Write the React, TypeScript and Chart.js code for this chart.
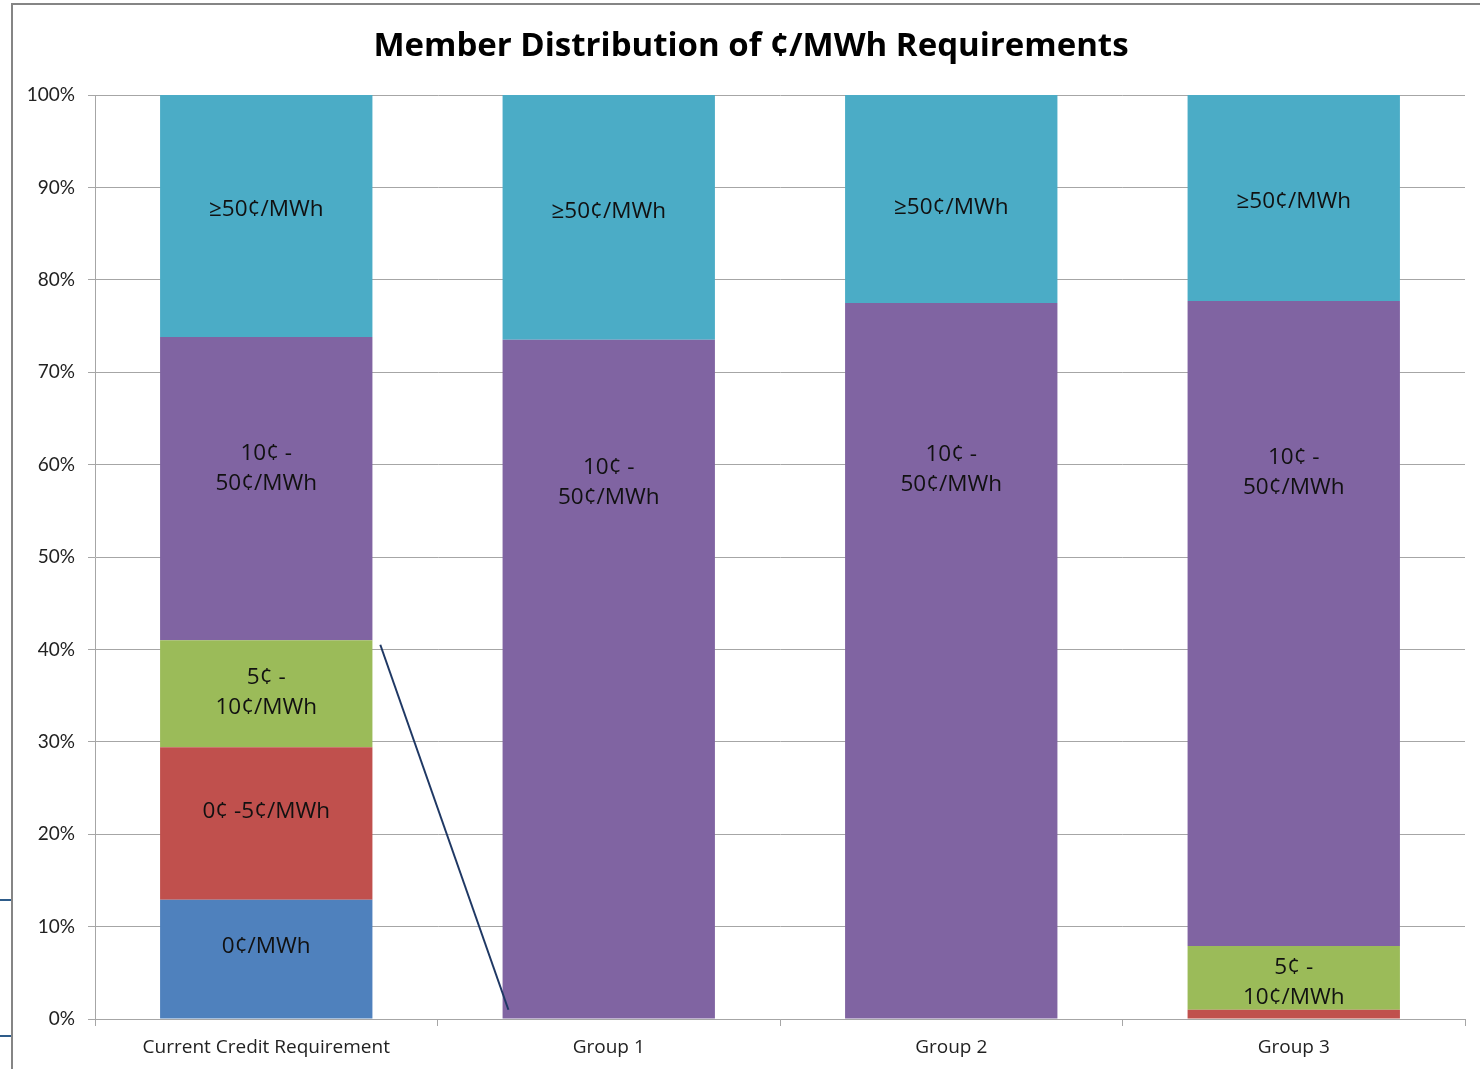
import React, { useEffect, useRef } from "react";
import { Chart, registerables } from "chart.js";

Chart.register(...registerables);

const categories = ["Current Credit Requirement", "Group 1", "Group 2", "Group 3"];
const zeroCents = [12.9, 0, 0, 0];
const zeroToFive = [16.5, 0, 0, 1.0];
const fiveToTen = [11.6, 0, 0, 6.9];
const tenToFifty = [32.8, 73.5, 77.5, 69.8];
const overFifty = [26.2, 26.5, 22.5, 22.3];

const seriesNames = ["0¢/MWh", "0¢ -5¢/MWh", "5¢ - 10¢/MWh", "10¢ - 50¢/MWh", "≥50¢/MWh"];
const yTicks = [0, 10, 20, 30, 40, 50, 60, 70, 80, 90, 100];

// data-label text lines per series
const labelLines: string[][] = [["0¢/MWh"], ["0¢ -5¢/MWh"], ["5¢ -", "10¢/MWh"], ["10¢ -", "50¢/MWh"], ["≥50¢/MWh"]];
// where each data label sits, in axis % (null = no label)
const labelAnchorPct: (number | null)[][] = [
  [7.8, null, null, null],
  [22.5, null, null, null],
  [35.3, null, null, 3.9],
  [59.6, 58.0, 59.5, 59.1],
  [87.6, 87.4, 87.8, 88.5],
];
// connector drawn between bars: [category units, axis %]
const connectorFrom = [0.333, 40.5];
const connectorTo = [0.707, 1.0];

const colors = ["#4F81BD", "#C0504D", "#9BBB59", "#8064A2", "#4BACC6"];
const seriesData = [zeroCents, zeroToFive, fiveToTen, tenToFifty, overFifty];

const FONT = "Lato, 'Open Sans', sans-serif";
const LFONT = "'Open Sans', Lato, sans-serif";

const decorPlugin = {
  id: "decor",
  beforeDraw(chart: any) {
    const ctx = chart.ctx;
    ctx.save();
    ctx.fillStyle = "#ffffff";
    ctx.fillRect(0, 0, chart.width, chart.height);
    // outer frame
    ctx.strokeStyle = "#858585";
    ctx.lineWidth = 2;
    ctx.beginPath();
    ctx.moveTo(12, chart.height);
    ctx.lineTo(12, 4);
    ctx.lineTo(chart.width, 4);
    ctx.stroke();
    // small stubs at the left edge
    ctx.strokeStyle = "#2E5C8A";
    ctx.lineWidth = 2;
    ctx.beginPath();
    ctx.moveTo(0, 900);
    ctx.lineTo(11, 900);
    ctx.moveTo(0, 1036);
    ctx.lineTo(11, 1036);
    ctx.stroke();
    // title
    ctx.fillStyle = "#000000";
    ctx.font = `bold 33px ${LFONT}`;
    ctx.textAlign = "center";
    ctx.textBaseline = "middle";
    ctx.fillText("Member Distribution of ¢/MWh Requirements", 751, 47);
    ctx.restore();
  },
  afterDatasetsDraw(chart: any) {
    const ctx = chart.ctx;
    const y = chart.scales.y;
    const x = chart.scales.x;
    ctx.save();
    ctx.fillStyle = "#111111";
    ctx.font = `22.5px ${LFONT}`;
    ctx.textAlign = "center";
    ctx.textBaseline = "middle";
    const lh = 30;
    labelAnchorPct.forEach((row, i) => {
      const meta = chart.getDatasetMeta(i);
      row.forEach((pct, j) => {
        if (pct == null) return;
        const cx = meta.data[j].x;
        const cy = y.getPixelForValue(pct);
        const lines = labelLines[i];
        lines.forEach((t, k) => {
          const ly = cy + (k - (lines.length - 1) / 2) * lh;
          ctx.fillText(t, cx, ly);
        });
      });
    });
    // connector line
    const step = x.getPixelForValue(1) - x.getPixelForValue(0);
    const x0 = x.getPixelForValue(0);
    ctx.strokeStyle = "#1F3864";
    ctx.lineWidth = 2;
    ctx.beginPath();
    ctx.moveTo(x0 + connectorFrom[0] * step, y.getPixelForValue(connectorFrom[1]));
    ctx.lineTo(x0 + connectorTo[0] * step, y.getPixelForValue(connectorTo[1]));
    ctx.stroke();
    ctx.restore();
  },
};

export default function App() {
  const ref = useRef<HTMLCanvasElement>(null);
  useEffect(() => {
    if (!ref.current) return;
    const chart = new Chart(ref.current, {
      type: "bar",
      data: {
        labels: categories,
        datasets: seriesData.map((d, i) => ({
          label: seriesNames[i],
          data: d,
          backgroundColor: colors[i],
          borderWidth: 0,
          barPercentage: 0.62,
          categoryPercentage: 1,
        })),
      },
      options: {
        animation: false,
        responsive: false,
        layout: { padding: { top: 95, right: 15, left: 0, bottom: 0 } },
        plugins: { legend: { display: false }, tooltip: { enabled: false }, title: { display: false } },
        scales: {
          x: {
            stacked: true,
            grid: { display: true, drawOnChartArea: false, drawTicks: true, tickLength: 7, color: "#a6a6a6", offset: true },
            border: { display: true, color: "#a6a6a6" },
            ticks: { color: "#222222", font: { family: LFONT, size: 19 }, padding: 10, maxRotation: 0 },
            afterFit(scale: any) {
              scale.height = 50;
            },
          },
          y: {
            stacked: true,
            min: 0,
            max: 100,
            afterBuildTicks(scale: any) {
              scale.ticks = yTicks.map((v) => ({ value: v }));
            },
            grid: { color: "#a6a6a6", tickLength: 7, drawTicks: true },
            border: { display: true, color: "#a6a6a6" },
            ticks: {
              color: "#222222",
              font: { family: FONT, size: 19 },
              padding: 13,
              callback: (v: any) => v + "%",
            },
            afterFit(scale: any) {
              scale.width = 95;
            },
          },
        },
      },
      plugins: [decorPlugin],
    });
    return () => chart.destroy();
  }, []);
  return (
    <div style={{ position: "fixed", left: 0, top: 0, width: 1480, height: 1069, background: "#fff" }}>
      <canvas ref={ref} width={1480} height={1069} style={{ width: 1480, height: 1069, display: "block" }} />
    </div>
  );
}
